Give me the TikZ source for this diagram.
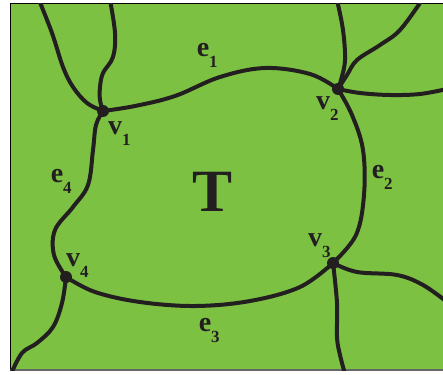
\documentclass[tikz,border=0pt]{standalone}
\usepackage{fontspec}
\setmainfont{Liberation Serif}
\definecolor{facegreen}{HTML}{7DC143}
\definecolor{edgeink}{HTML}{231F20}
\newcommand{\lbl}[2]{#1\rlap{\smash{\raisebox{-11pt}{\fontsize{17}{17}\selectfont #2}}}}

\begin{document}
\begin{tikzpicture}[x=1pt,y=-1pt,
    edge/.style={draw=edgeink,line width=4pt,line cap=round},
    vdot/.style={circle,fill=edgeink,inner sep=0pt,minimum size=12pt},
    lab/.style={font=\fontsize{28}{28}\selectfont\bfseries,text=edgeink,inner sep=0pt}]
  \useasboundingbox (0,0) rectangle (443,374);
  % the face, with its frame
  \fill[facegreen] (10,4) rectangle (445,370);
  \draw[black,line width=1pt] (10,370) -- (10,4) -- (445,4);
  \draw[black!60,line width=2pt] (10,370) -- (445,370);
  % vertices
  \coordinate (v1) at (103,111);
  \coordinate (v2) at (338,89);
  \coordinate (v3) at (333,263);
  \coordinate (v4) at (66,277);
  % free ends on the frame
  \coordinate (a1) at (39,0);
  \coordinate (a2) at (110,0);
  \coordinate (b1) at (337,0);
  \coordinate (b2) at (422,0);
  \coordinate (b3) at (447,89);
  \coordinate (c1) at (447,302);
  \coordinate (c2) at (345,374);
  \coordinate (d1) at (11,374);
  \begin{scope}
    \clip (10,4) rectangle (445,370);
    % the cycle round T
    \draw[edge] plot[smooth,tension=0.6] coordinates
      {(v1) (135,106) (175,96) (220,77) (265,68) (310,74) (v2)};
    \draw[edge] plot[smooth,tension=0.6] coordinates
      {(v2) (352,115) (363,150) (364,195) (356,235) (v3)};
    \draw[edge] plot[smooth,tension=0.6] coordinates
      {(v3) (300,287) (250,301) (195,306) (140,302) (95,292) (v4)};
    \draw[edge] plot[smooth,tension=0.6] coordinates
      {(v4) (54,255) (55,230) (73,207) (88,185) (93,150) (96,125) (v1)};
    % edges out to the frame
    \draw[edge] plot[smooth,tension=0.6] coordinates
      {(a1) (52,33) (63,67) (73,87) (87,103) (v1)};
    \draw[edge] plot[smooth,tension=0.6] coordinates
      {(a2) (115,33) (113,57) (103,73) (100,87) (100,100) (v1)};
    \draw[edge] plot[smooth,tension=0.6] coordinates
      {(b1) (343,30) (345,60) (341,80) (v2)};
    \draw[edge] plot[smooth,tension=0.6] coordinates
      {(b2) (400,30) (380,45) (357,60) (347,75) (v2)};
    \draw[edge] plot[smooth,tension=0.6] coordinates
      {(v2) (360,93) (390,95) (420,94) (b3)};
    \draw[edge] plot[smooth,tension=0.6] coordinates
      {(v3) (357,272) (397,275) (423,285) (c1)};
    \draw[edge] plot[smooth,tension=0.6] coordinates
      {(v3) (337,303) (337,337) (340,355) (c2)};
    \draw[edge] plot[smooth,tension=0.6] coordinates
      {(v4) (62,303) (53,327) (37,343) (22,353) (d1)};
  \end{scope}
  \node[vdot] (p1) at (v1) {};
  \node[vdot] (p2) at (v2) {};
  \node[vdot] (p3) at (v3) {};
  \node[vdot] (p4) at (v4) {};
  % labels
  \node[lab] (l1) at (115,128) {\lbl{v}{1}};
  \node[lab] (l2) at (323,103) {\lbl{v}{2}};
  \node[lab] (l3) at (315,240) {\lbl{v}{3}};
  \node[lab] (l4) at (73,260) {\lbl{v}{4}};
  \node[lab] (f1) at (203,50) {\lbl{e}{1}};
  \node[lab] (f2) at (378,172) {\lbl{e}{2}};
  \node[lab] (f3) at (205,325) {\lbl{e}{3}};
  \node[lab] (f4) at (57,176) {\lbl{e}{4}};
  \node[font=\fontsize{60}{60}\selectfont\bfseries,text=edgeink,inner sep=0pt] (T) at (213,192) {T};
\end{tikzpicture}
\end{document}
